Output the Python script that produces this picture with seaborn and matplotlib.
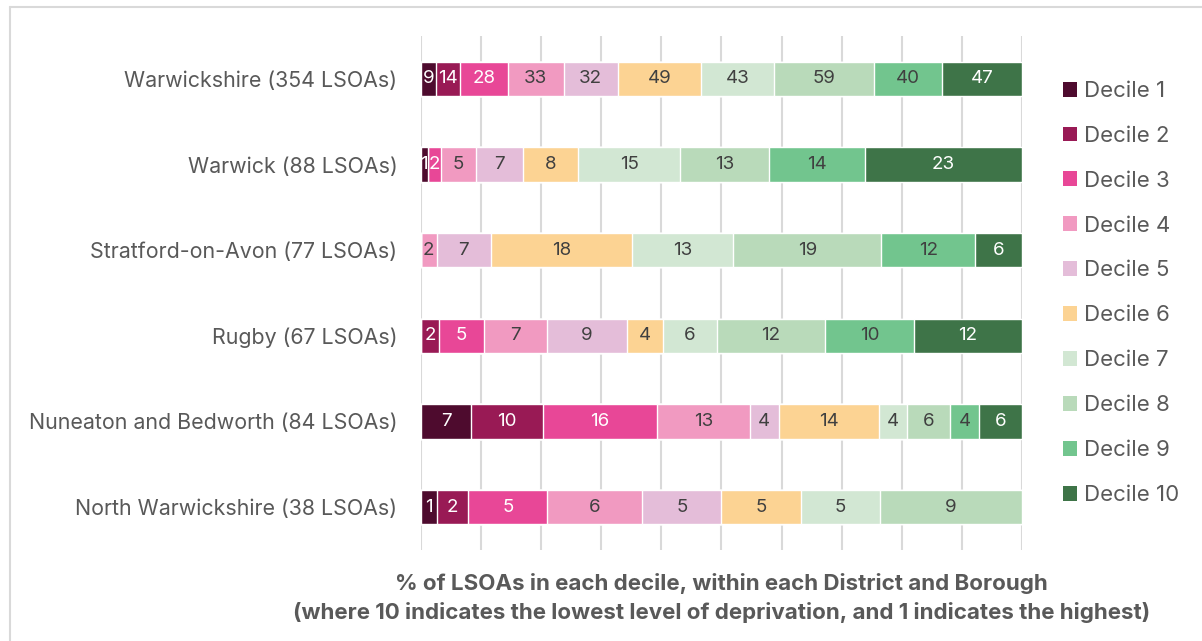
import matplotlib.pyplot as plt
import matplotlib.lines as mlines
import numpy as np
import seaborn as sns
from matplotlib.patches import Patch

areas = ["Warwickshire (354 LSOAs)", "Warwick (88 LSOAs)",
         "Stratford-on-Avon (77 LSOAs)", "Rugby (67 LSOAs)",
         "Nuneaton and Bedworth (84 LSOAs)", "North Warwickshire (38 LSOAs)"]
deciles = ["Decile %d" % i for i in range(1, 11)]

# LSOA counts per decile (1..10) for each area
warwickshire = [9, 14, 28, 33, 32, 49, 43, 59, 40, 47]
warwick = [1, 0, 2, 5, 7, 8, 15, 13, 14, 23]
stratford = [0, 0, 0, 2, 7, 18, 13, 19, 12, 6]
rugby = [0, 2, 5, 7, 9, 4, 6, 12, 10, 12]
nuneaton = [7, 10, 16, 13, 4, 14, 4, 6, 4, 6]
north_warks = [1, 2, 5, 6, 5, 5, 5, 9, 0, 0]

colours = ["#4E0B2E", "#991A55", "#E84797", "#F19AC1", "#E4BDD9",
           "#FCD393", "#D2E7D3", "#B9DABA", "#72C58E", "#3E7448"]
label_colours = ["white", "white", "white", "#404040", "#404040",
                 "#404040", "#404040", "#404040", "#404040", "white"]


def main():
    sns.set_theme(style="white")
    plt.rcParams['font.family'] = ['Inter', 'DejaVu Sans']

    counts = np.array([warwickshire, warwick, stratford, rugby,
                       nuneaton, north_warks], dtype=float)
    pct = counts / counts.sum(axis=1, keepdims=True) * 100
    cum = pct.cumsum(axis=1)

    fig = plt.figure(figsize=(12.02, 6.41), dpi=100)
    ax = fig.add_axes([0.3502, 0.142, 0.5, 0.8018])

    # stacked bars: draw cumulative totals from the top decile down
    for i in range(9, -1, -1):
        sns.barplot(x=cum[:, i], y=areas, color=colours[i], orient="h",
                    width=0.4, saturation=1, ax=ax, zorder=2)

    for r in range(len(areas)):
        for i in range(10):
            if counts[r, i] == 0:
                continue
            ax.text(cum[r, i] - pct[r, i] / 2, r, "%d" % counts[r, i],
                    ha="center", va="center", fontsize=13.5,
                    color=label_colours[i], zorder=3)

    ax.set_xlim(0, 100)
    ax.set_ylim(5.5, -0.5)
    ax.set_xticks(np.arange(0, 101, 10))
    ax.set_xticklabels([])
    ax.grid(axis="x", color="#D9D9D9", linewidth=1.5)
    ax.set_axisbelow(True)
    sns.despine(ax=ax, left=True, bottom=True)
    ax.tick_params(axis="both", length=0)
    ax.tick_params(axis="y", pad=17, labelsize=15.4, labelcolor="#595959")
    ax.set_ylabel("")
    ax.set_xlabel("% of LSOAs in each decile, within each District and Borough\n"
                  "(where 10 indicates the lowest level of deprivation, "
                  "and 1 indicates the highest)",
                  fontsize=16.1, fontweight="bold", color="#595959",
                  labelpad=13, linespacing=1.45)

    handles = [Patch(facecolor=c, edgecolor="none") for c in colours]
    fig.legend(handles, deciles, loc="center left",
               bbox_to_anchor=(1043 / 1202, 0.543), frameon=False,
               fontsize=16, labelcolor="#595959", handlelength=0.65,
               handleheight=0.65, handletextpad=0.3, labelspacing=1.12)

    # light frame round the chart
    fig.add_artist(mlines.Line2D([10 / 1202, 1], [1 - 7 / 641, 1 - 7 / 641],
                                 color="#D9D9D9", linewidth=1.5))
    fig.add_artist(mlines.Line2D([10 / 1202, 10 / 1202], [0, 1 - 7 / 641],
                                 color="#D9D9D9", linewidth=1.5))

    fig.savefig("out.png", dpi=100, facecolor="white")


if __name__ == "__main__":
    main()
